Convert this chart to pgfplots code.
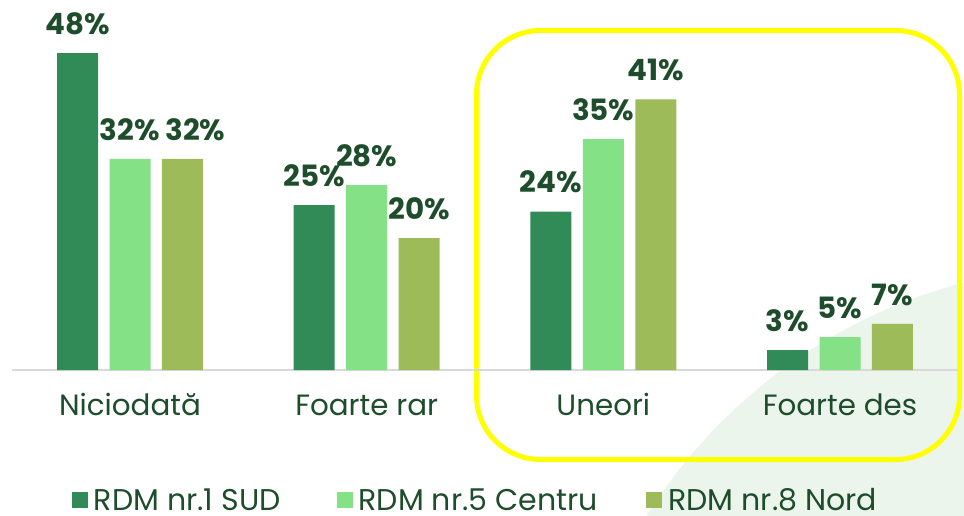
\documentclass[border=0pt]{standalone}
\usepackage{pgfplots}
\pgfplotsset{compat=1.18}
\usepackage{fontspec}
\setmainfont{Poppins}
\definecolor{cA}{HTML}{318B57}
\definecolor{cB}{HTML}{84E185}
\definecolor{cC}{HTML}{9DBB59}
\definecolor{txt}{HTML}{1E4D2B}
\definecolor{lineg}{HTML}{D9D9D9}
\definecolor{bgc}{HTML}{EBF5EC}
\definecolor{yel}{HTML}{FFFF00}
\begin{document}
\begin{tikzpicture}[x=0.75pt,y=0.75pt]
\useasboundingbox (0,0) rectangle (964,515);
\begin{scope}
\clip (0,0) rectangle (964,515);
\fill[bgc] (1100,-285) circle (535);
\end{scope}
\draw[yel, line width=3.75pt, rounded corners=48pt] (476.5,484.5) rectangle (959.5,55.5);
\begin{axis}[
  at={(97.5pt,108.75pt)}, anchor=origin,
  scale only axis, width=710pt, height=247.5pt,
  xmin=-0.5, xmax=3.5, ymin=0, ymax=50,
  clip=false,
  ybar=8.6pt, bar width=30.75pt,
  hide y axis,
  axis x line*=bottom,
  x axis line style={draw=lineg, line width=1.5pt, -},
  xtick={0,1,2,3},
  xticklabels={Niciodată, Foarte rar, Uneori, Foarte des},
  xtick style={draw=none},
  xticklabel style={font=\fontsize{22}{26}\selectfont, text=txt, anchor=base, yshift=-30pt},
  /pgf/number format/assume math mode=true,
  nodes near coords={\pgfmathprintnumber{\pgfplotspointmeta}\%},
  every node near coord/.append style={font=\fontsize{22}{26}\selectfont\bfseries, text=txt, anchor=base, yshift=14pt},
  legend columns=3,
  legend style={draw=none, fill=none, at={(0.0634,-0.395)}, anchor=west,
    font=\fontsize{22.5}{26}\selectfont, text=txt,
    /tikz/column 2/.style={column sep=40pt},
    /tikz/column 4/.style={column sep=34.5pt},
    inner sep=0pt},
  legend image code/.code={\fill[#1] (0pt,-6pt) rectangle (12pt,6pt); \path (14.5pt,0pt);},
]
\addplot[fill=cA, draw=none] coordinates {(0,48) (1,25) (2,24) (3,3)};
\addplot[fill=cB, draw=none] coordinates {(0,32) (1,28) (2,35) (3,5)};
\addplot[fill=cC, draw=none, visualization depends on={value \coordindex \as \myidx},
  nodes near coords style={xshift={(\myidx==0)*9.75pt}}] coordinates {(0,32) (1,20) (2,41) (3,7)};
\legend{RDM nr.1 SUD, RDM nr.5 Centru, RDM nr.8 Nord}
\end{axis}
\end{tikzpicture}
\end{document}
